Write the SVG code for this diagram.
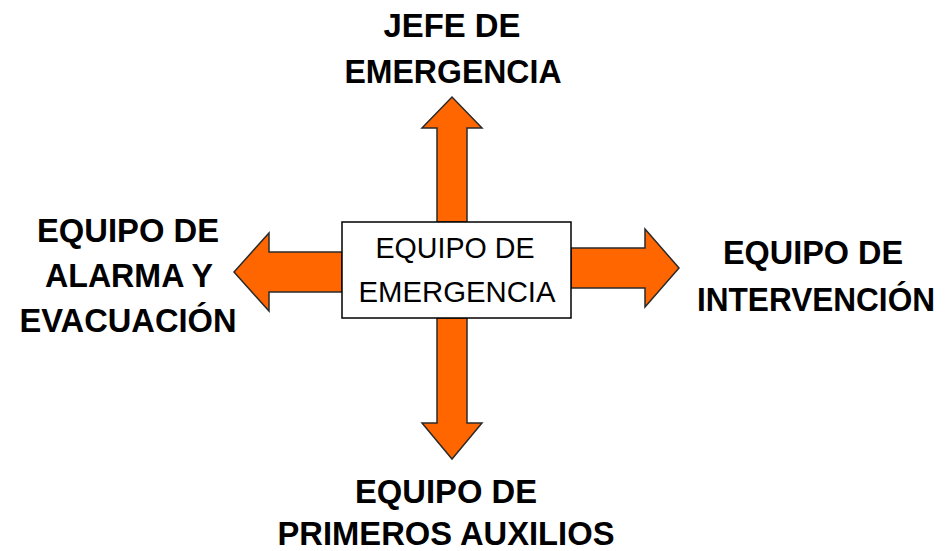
<svg xmlns="http://www.w3.org/2000/svg" width="945" height="551" viewBox="0 0 945 551">
<style>
.arrow{fill:#FF6600;stroke:#2a2a2a;stroke-width:1.5;stroke-linejoin:miter}
.lbl{font-family:"Liberation Sans",Arial,sans-serif;font-weight:bold;font-size:33px;fill:#000;text-anchor:middle}
.box{fill:#fff;stroke:#000;stroke-width:1.5}
.boxt{font-family:"Liberation Sans",Arial,sans-serif;font-size:29px;fill:#000;text-anchor:middle}
</style>
<rect width="945" height="551" fill="#fff"/>
<g id="connectors">
<polygon class="arrow" points="437,222 437,128 422,128 452,97 482,128 467,128 467,222"/>
<polygon class="arrow" points="437,318 437,423 422,423 452,459 482,423 467,423 467,318"/>
<polygon class="arrow" points="342,252 269,252 269,233 234,272 269,311 269,292 342,292"/>
<polygon class="arrow" points="571,248 645,248 645,229 679,268 645,307 645,288 571,288"/>
</g>
<g id="center">
<rect class="box" x="342" y="222" width="229" height="96"/>
<text class="boxt" x="455" y="258" textLength="159" lengthAdjust="spacingAndGlyphs">EQUIPO DE</text>
<text class="boxt" x="457" y="302" textLength="197" lengthAdjust="spacingAndGlyphs">EMERGENCIA</text>
</g>
<g id="jefe">
<text class="lbl" x="452" y="37" textLength="137" lengthAdjust="spacingAndGlyphs">JEFE DE</text>
<text class="lbl" x="453" y="83" textLength="217" lengthAdjust="spacingAndGlyphs">EMERGENCIA</text>
</g>
<g id="alarma">
<text class="lbl" x="128" y="242" textLength="182" lengthAdjust="spacingAndGlyphs">EQUIPO DE</text>
<text class="lbl" x="129" y="287" textLength="168" lengthAdjust="spacingAndGlyphs">ALARMA Y</text>
<text class="lbl" x="128" y="332" textLength="217" lengthAdjust="spacingAndGlyphs">EVACUACIÓN</text>
</g>
<g id="intervencion">
<text class="lbl" x="813" y="264" textLength="180" lengthAdjust="spacingAndGlyphs">EQUIPO DE</text>
<text class="lbl" x="816" y="311" textLength="238" lengthAdjust="spacingAndGlyphs">INTERVENCIÓN</text>
</g>
<g id="auxilios">
<text class="lbl" x="446" y="503" textLength="182" lengthAdjust="spacingAndGlyphs">EQUIPO DE</text>
<text class="lbl" x="446" y="545" textLength="337" lengthAdjust="spacingAndGlyphs">PRIMEROS AUXILIOS</text>
</g>
</svg>
